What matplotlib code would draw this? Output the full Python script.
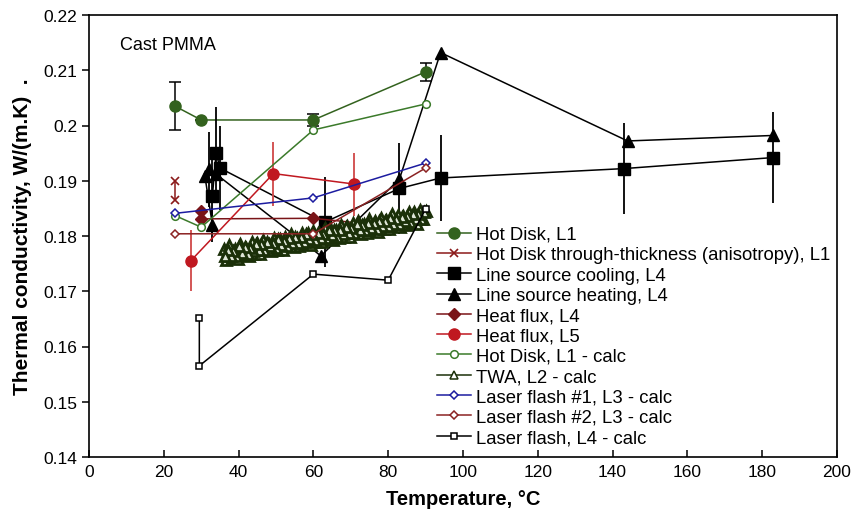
import numpy as np
import matplotlib
matplotlib.use('Agg')
import matplotlib.pyplot as plt

plt.rcParams['font.family'] = ['Liberation Sans', 'DejaVu Sans']

# Hot Disk, L1
hd_T = [23, 30, 60, 90]
hd_k = [0.2035, 0.2010, 0.2010, 0.2097]
hd_err = [0.0044, 0.0, 0.0010, 0.0017]

# Hot Disk through-thickness
hdt_T = [23, 23]
hdt_k = [0.1899, 0.1866]

# Line source cooling, L4
lsc_T = [33, 34, 35, 63, 83, 94, 143, 183]
lsc_k = [0.1873, 0.1951, 0.1923, 0.1825, 0.1886, 0.1905, 0.1922, 0.1942]
lsc_err = [0.0068, 0.0082, 0.0076, 0.0081, 0.0082, 0.0077, 0.0082, 0.0082]

# Line source heating, L4
lsh_T = [33, 31, 32, 34, 62, 83, 94, 144, 183]
lsh_k = [0.1820, 0.1908, 0.1921, 0.1912, 0.1764, 0.1903, 0.2132, 0.1972, 0.1982]
lsh_err = [0.0030, 0.0, 0.0068, 0.0, 0.0, 0.0, 0.0, 0.0, 0.0]

# Heat flux, L4
hf4_T = [30, 30, 60, 80]
hf4_k = [0.1845, 0.1831, 0.1832, 0.1818]

# Heat flux, L5
hf5_T = [27.2, 49.3, 70.9]
hf5_k = [0.1755, 0.1913, 0.1894]
hf5_err = [0.0055, 0.0058, 0.0057]

# Hot Disk, L1 - calc
hdc_T = [23, 30, 60, 90]
hdc_k = [0.1837, 0.1816, 0.1992, 0.2039]

# TWA, L2 - calc (two runs)
twa_T1 = [36.00, 36.75, 37.50, 38.25, 39.00, 39.75, 40.50, 41.25, 42.00, 42.75,
          43.50, 44.25, 45.00, 45.75, 46.50, 47.25, 48.00, 48.75, 49.50, 50.25,
          51.00, 51.75, 52.50, 53.25, 54.00, 54.75, 55.50, 56.25, 57.00, 57.75,
          58.50, 59.25, 60.00, 60.75, 61.50, 62.25, 63.00, 63.75, 64.50, 65.25,
          66.00, 66.75, 67.50, 68.25, 69.00, 69.75, 70.50, 71.25, 72.00, 72.75,
          73.50, 74.25, 75.00, 75.75, 76.50, 77.25, 78.00, 78.75, 79.50, 80.25,
          81.00, 81.75, 82.50, 83.25, 84.00, 84.75, 85.50, 86.25, 87.00, 87.75,
          88.50, 89.25, 90.00]
twa_k1 = [0.1777, 0.1756, 0.1783, 0.1760, 0.1777, 0.1759, 0.1785, 0.1765, 0.1779, 0.1764,
          0.1790, 0.1768, 0.1787, 0.1767, 0.1792, 0.1774, 0.1786, 0.1772, 0.1797, 0.1775,
          0.1794, 0.1775, 0.1799, 0.1783, 0.1803, 0.1780, 0.1797, 0.1781, 0.1806, 0.1786,
          0.1805, 0.1784, 0.1809, 0.1789, 0.1806, 0.1789, 0.1815, 0.1795, 0.1814, 0.1793,
          0.1810, 0.1796, 0.1820, 0.1799, 0.1819, 0.1798, 0.1823, 0.1806, 0.1827, 0.1804,
          0.1822, 0.1805, 0.1830, 0.1810, 0.1828, 0.1808, 0.1833, 0.1813, 0.1829, 0.1813,
          0.1839, 0.1819, 0.1838, 0.1817, 0.1837, 0.1820, 0.1844, 0.1824, 0.1843, 0.1822,
          0.1847, 0.1830, 0.1846]
twa_T2 = [89.6, 88.9, 88.1, 87.4, 86.6, 85.9, 85.1, 84.4, 83.6, 82.9,
          82.1, 81.4, 80.6, 79.9, 79.1, 78.4, 77.6, 76.9, 76.1, 75.4,
          74.6, 73.9, 73.1, 72.4, 71.6, 70.9, 70.1, 69.4, 68.6, 67.9,
          67.1, 66.4, 65.6, 64.9, 64.1, 63.4, 62.6, 61.9, 61.1, 60.4,
          59.6, 58.9, 58.1, 57.4, 56.6, 55.9, 55.1, 54.4, 53.6, 52.9,
          52.1, 51.4, 50.6, 49.9, 49.1, 48.4, 47.6, 46.9, 46.1, 45.4,
          44.6, 43.9, 43.1, 42.4, 41.6, 40.9, 40.1, 39.4, 38.6, 37.9,
          37.1, 36.4]
twa_k2 = [0.1843, 0.1830, 0.1839, 0.1830, 0.1840, 0.1826, 0.1836, 0.1827, 0.1835, 0.1821,
          0.1830, 0.1822, 0.1833, 0.1818, 0.1828, 0.1819, 0.1828, 0.1813, 0.1823, 0.1814,
          0.1823, 0.1810, 0.1820, 0.1811, 0.1821, 0.1805, 0.1814, 0.1805, 0.1816, 0.1804,
          0.1811, 0.1799, 0.1811, 0.1801, 0.1811, 0.1796, 0.1804, 0.1797, 0.1806, 0.1792,
          0.1803, 0.1794, 0.1804, 0.1790, 0.1798, 0.1787, 0.1799, 0.1788, 0.1796, 0.1781,
          0.1791, 0.1783, 0.1794, 0.1779, 0.1788, 0.1781, 0.1789, 0.1774, 0.1785, 0.1775,
          0.1786, 0.1772, 0.1778, 0.1768, 0.1780, 0.1770, 0.1781, 0.1763, 0.1773, 0.1763,
          0.1775, 0.1764]
twa_T = twa_T1 + twa_T2
twa_k = twa_k1 + twa_k2

# Laser flash #1, L3 - calc
lf1_T = [23, 60, 90]
lf1_k = [0.1841, 0.1869, 0.1932]

# Laser flash #2, L3 - calc
lf2_T = [23, 60, 90]
lf2_k = [0.1804, 0.1804, 0.1923]

# Laser flash, L4 - calc
lf4_T = [29.5, 29.5, 60, 80, 90]
lf4_k = [0.1651, 0.1565, 0.1731, 0.1720, 0.1849]

fig = plt.figure(figsize=(8.54, 5.10), dpi=100)
ax = fig.add_axes([89/854, 52/510, 748/854, 442/510])

lw = 1.1
twa_c = '#1b3009'
ax.errorbar(hd_T, hd_k, yerr=hd_err, fmt='none', ecolor='black', elinewidth=1.1, capsize=4, capthick=1.1)
ax.plot(hd_T, hd_k, '-o', color='#33621e', lw=lw, ms=8, label='Hot Disk, L1')
ax.plot(hdt_T, hdt_k, '-x', color='#8b1a1a', lw=lw, ms=6, mew=1.2,
        label='Hot Disk through-thickness (anisotropy), L1')
ax.errorbar(lsc_T, lsc_k, yerr=lsc_err, fmt='none', ecolor='black', elinewidth=1.3, capsize=0)
ax.plot(lsc_T, lsc_k, '-s', color='black', lw=lw, ms=8, label='Line source cooling, L4')
ax.errorbar(lsh_T, lsh_k, yerr=lsh_err, fmt='none', ecolor='black', elinewidth=1.3, capsize=0)
ax.plot(lsh_T, lsh_k, '-^', color='black', lw=lw, ms=9, label='Line source heating, L4')
ax.plot(hf4_T, hf4_k, '-D', color='#7a1418', lw=lw, ms=6.5, label='Heat flux, L4')
ax.errorbar(hf5_T, hf5_k, yerr=hf5_err, fmt='none', ecolor='#d04848', elinewidth=1.3, capsize=0)
ax.plot(hf5_T, hf5_k, '-o', color='#c01820', lw=lw, ms=8, label='Heat flux, L5')
ax.plot(hdc_T, hdc_k, '-o', color='#3b7a2a', mfc='white', lw=lw, ms=5.5, mew=1.1,
        label='Hot Disk, L1 - calc')
# dense TWA cloud, drawn heavy; a thin proxy goes in the legend
ax.plot(twa_T, twa_k, '-^', color=twa_c, mfc='#dfe6d8', lw=1.8, ms=7.5, mew=2.0)
ax.plot([], [], '-^', color=twa_c, mfc='white', lw=lw, ms=5.5, mew=1.1, label='TWA, L2 - calc')
ax.plot(lf1_T, lf1_k, '-D', color='#1c1ca0', mfc='white', lw=lw, ms=4, mew=1.1,
        label='Laser flash #1, L3 - calc')
ax.plot(lf2_T, lf2_k, '-D', color='#8b2323', mfc='white', lw=lw, ms=4, mew=1.1,
        label='Laser flash #2, L3 - calc')
ax.plot(lf4_T, lf4_k, '-s', color='black', mfc='white', lw=lw, ms=5, mew=1.1,
        label='Laser flash, L4 - calc')

ax.set_xlim(0, 200)
ax.set_ylim(0.14, 0.22)
ax.set_xticks(np.arange(0, 201, 20))
ax.set_yticks(np.arange(0.14, 0.2201, 0.01))
ax.set_yticklabels(['0.14', '0.15', '0.16', '0.17', '0.18', '0.19', '0.2', '0.21', '0.22'])
ax.tick_params(axis='x', direction='in', length=5, width=1.1, labelsize=12.5, pad=5)
ax.tick_params(axis='y', direction='out', length=5, width=1.1, labelsize=12.5)
for s in ax.spines.values():
    s.set_linewidth(1.2)

ax.set_xlabel('Temperature, °C', fontsize=14.5, fontweight='bold', labelpad=7)
ax.set_ylabel('Thermal conductivity, W/(m.K)  .', fontsize=15, fontweight='bold', labelpad=8)
ax.text(120/854, 1 - 45/510, 'Cast PMMA', transform=fig.transFigure, fontsize=13, va='center', ha='left')

ax.legend(loc='upper left', bbox_to_anchor=(437/854, 283/510), bbox_transform=fig.transFigure,
          frameon=False, fontsize=13.3, borderpad=0, borderaxespad=0, labelspacing=0.18,
          handlelength=1.85, handletextpad=0.25)

fig.savefig('out.png', dpi=100)
